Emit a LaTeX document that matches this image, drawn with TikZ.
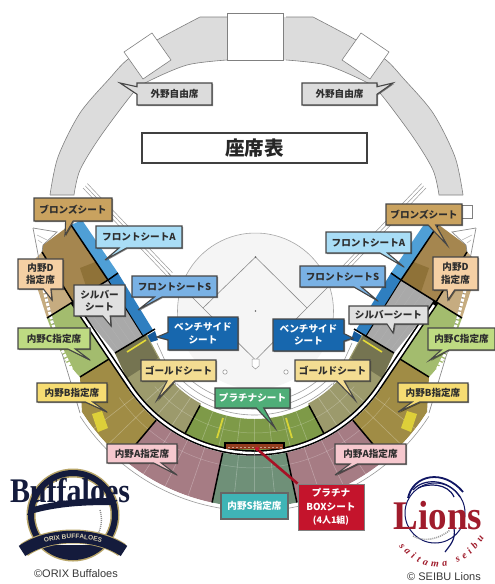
\documentclass[tikz,border=0pt]{standalone}
\usepackage{fontspec}
\usetikzlibrary{shapes.callouts,shadows,decorations.text}
\newfontfamily\cjk{Noto Sans CJK JP}
\setmainfont{Liberation Sans}
\newfontfamily\logoserif{Liberation Serif}
\definecolor{cStand}{HTML}{DCDCDC}
\definecolor{cS}{HTML}{6F9078}
\definecolor{cA}{HTML}{A67C84}
\definecolor{cB}{HTML}{A08C45}
\definecolor{cC}{HTML}{A3BC6E}
\definecolor{cD}{HTML}{C6AC80}
\definecolor{cBronze}{HTML}{A5864F}
\definecolor{cBronzeD}{HTML}{8F7238}
\definecolor{cSilver}{HTML}{A9A9A9}
\definecolor{cGold}{HTML}{9C9A6C}
\definecolor{cPlat}{HTML}{7E9A48}
\definecolor{cFA}{HTML}{4F9FD6}
\definecolor{cFS}{HTML}{2F7FC0}
\definecolor{cBen}{HTML}{155A9C}
\definecolor{navy}{HTML}{141B3C}
\definecolor{logogold}{HTML}{B8A568}
\definecolor{lionred}{HTML}{A01C2C}
\definecolor{lBoxRed}{HTML}{C4142C}
\newcommand{\Sector}[5]{\fill[#5] plot[domain=#3:#4,samples=24] ({254.5+#1*cos(\x)},{303+#1*sin(\x)}) -- plot[domain=#4:#3,samples=24] ({254.5+#2*cos(\x)},{303+#2*sin(\x)}) -- cycle;}
\newcommand{\Rarc}[4]{\draw[#4] plot[domain=#2:#3,samples=30] ({254.5+#1*cos(\x)},{303+#1*sin(\x)});}
\newcommand{\Rad}[4]{\draw[#4] ({254.5+#1*cos(#3)},{303+#1*sin(#3)}) -- ({254.5+#2*cos(#3)},{303+#2*sin(#3)});}
\tikzset{
 lab/.style={rectangle callout,draw=black!72,line width=1.1pt,inner sep=0pt,align=center,
   callout pointer width=7.5pt,text=black!82,font=\cjk\bfseries\fontsize{9.6}{12.5}\selectfont,
   drop shadow={shadow xshift=1pt,shadow yshift=-1pt,fill=black,opacity=.45}},
 seat/.style={white,opacity=.28,line width=.6pt},
 wall/.style={black,line width=1.5pt},
 ringline/.style={black!38,line width=.6pt},
 seatarc/.style={white,opacity=.25,line width=.5pt}
}
\newcommand{\Lab}[9]{%
 \pgfmathsetmacro\lw{#4-#2}\pgfmathsetmacro\lh{#5-#3}%
 \pgfmathsetmacro\lx{(#2+#4)/2}\pgfmathsetmacro\ly{(#3+#5)/2}%
 \node[lab,fill=#8,minimum width=\lw pt,minimum height=\lh pt,callout absolute pointer={(#6,#7)}] (#1) at (\lx,\ly) {#9};}
\newcommand{\HalfBowl}{%
 \fill[cStand] plot[smooth] coordinates {(50,195) (58,157) (80,113) (110,78) (127,60) (157,40) (200,17)} -- (254,17) -- (254,60) -- (227,60) -- plot[smooth] coordinates {(227,60) (187,65) (147,82) (133,93) (100,137) (80,170) (74,195)} -- cycle;
 \draw[black!50,line width=.6pt] plot[smooth] coordinates {(50,195) (58,157) (80,113) (110,78) (127,60) (157,40) (200,17)} -- (227,17);
 \draw[black!50,line width=.6pt] plot[smooth] coordinates {(227,60) (187,65) (147,82) (133,93) (100,137) (80,170) (74,195)} -- (50,195);
 \draw[black!50,fill=white,line width=.6pt] (124,52) -- (152,33) -- (171,60) -- (143,79) -- cycle;
}
\newcommand{\LowerBowl}{%
 \Rarc{112}{90}{134}{ringline}
 \draw[ringline] (176,385) -- (157,343);
 \Rarc{106}{90}{134}{ringline}
 \Rarc{100}{90}{130}{ringline}
 \foreach \o in {0,2.2,4.4}{\draw[black!40,line width=.5pt] ({83+\o},{188-\o}) -- ({168+\o},{277-\o});}
 \Sector{153}{204}{90}{102}{cS}
 \Sector{153}{204}{102}{130}{cA}
 \Sector{153}{204}{130}{147.8}{cB}
 \fill[cB] (110.7,358) -- (80,377) -- (82,412) -- (130,387) -- cycle;
 \fill[cC] (73,302) -- (47,318) -- (55,340) -- (66,362) -- (80,377) -- (110.7,358) -- cycle;
 \fill[cD] (42,252) -- (73,302) -- (47,318) -- (38,290) -- (32,262) -- cycle;
 \fill[cBronze] (43,245) -- (70,225) -- (108,279) -- (73,302) -- (42,252) -- cycle;
 \fill[cBronzeD] (80,268) -- (103,259) -- (108,279) -- (88,292) -- cycle;
 \fill[cFA] (71,225) -- (82,220) -- (118,273) -- (108,280) -- cycle;
 \fill[cFS] (108,280) -- (118,273) -- (153,330) -- (143,336) -- cycle;
 \fill[cBen] (145,337) -- (155,331) -- (158,340) -- (148,343) -- cycle;
 \fill[cSilver] (108,280) -- (143,336) -- (115,353) -- (73,302) -- cycle;
 \foreach \o in {6,12,...,24}{\draw[black!30,line width=.3pt] ({108-\o*1.15},{280+\o*.8}) -- ({143-\o*1.0},{336+\o*.62});}
 \fill[cGold] (115,353) -- (147,335) -- (173,383) -- (130,386) -- cycle;
 \Sector{114}{148}{118}{146}{cGold}
 \fill[black!25!cGold] (115,353) -- (145,334) -- (158,358) -- (127,378) -- cycle;
 \draw[yellow!70!cGold,line width=1.6pt] (127,352) -- (146,340);
 \Sector{116}{148}{90}{118}{cPlat}
 \foreach \a in {96,109,116,123,136,142}{\Rad{153}{204}{\a}{seat}}
 \foreach \a in {97,104,111}{\Rad{116}{148}{\a}{seat}}
 \foreach \a in {124,131,138}{\Rad{114}{148}{\a}{seat}}
 \Rarc{165}{90}{145}{seatarc}
 \Rarc{130}{90}{140}{seatarc}
 \draw[yellow!65!cPlat,line width=1.8pt] (223,418) -- (217,438);
 \fill[yellow!60!cB] (92,414) -- (102,411) -- (108,428) -- (98,432) -- cycle;
 \Rarc{208}{90}{147}{black!40,line width=.6pt}
 \Rarc{205.5}{90}{147}{white,line width=2.2pt}
 \draw[black!45,line width=.7pt] (33,228) -- (57,232) -- (43,245) -- (42,252);
 \draw[black!45,line width=.7pt] (33,228) -- (46,296) -- (58,340) -- (80,413);
 \draw[white,line width=3pt,dash pattern=on 3pt off 1.5pt] (44,290) -- (52,322) -- (62,350) -- (78,382);
 \draw[black!30,line width=.5pt] (37,235) -- (47,240);
 \draw[black!30,line width=.5pt] (38,240) -- (42,243);
 \draw[wall] (71,225) -- (108,280);
 \draw[wall] (108,280) -- (118,273);
 \draw[wall] (47,318) -- (108,280);
 \draw[wall] (115,353) -- (155,329);
 \draw[wall] (110.7,358) -- (80,377);
 \draw[wall] (42,252) -- (73,302);
 \draw[black,line width=1pt] (108,280) -- (143,336);
 \Rad{153}{204}{102}{wall}
 \Rad{153}{204}{130}{wall}
 \Rad{116}{148}{118}{wall}
 \draw[black,line width=5.5pt] (73,302) -- (130.2,386.9);
 \Rarc{150}{90}{146}{black,line width=5.5pt}
 \draw[white,line width=2.4pt] (75,305) -- (130.2,386.9);
 \Rarc{150}{90}{146}{white,line width=2.4pt}
}
\begin{document}
\begin{tikzpicture}[x=1pt,y=-1pt]
\useasboundingbox (0,0) rectangle (495,584);
\fill[white] (0,0) rectangle (495,584);
\fill[black!4] (255.5,311) circle[radius=78];
\draw[black!35,line width=.6pt] plot[domain=172:368,samples=50] ({255.5+78*cos(\x)},{311+78*sin(\x)});
\HalfBowl
\begin{scope}[shift={(513,0)},xscale=-1]\HalfBowl\end{scope}
\draw[black!50,fill=white,line width=.6pt] (227,13) rectangle (283,60);
\begin{scope}\LowerBowl\end{scope}
\begin{scope}[shift={(509,0)},xscale=-1]\LowerBowl\end{scope}
\draw[black!45,line width=.6pt] (255.5,360) -- (203,308) -- (255.5,257) -- (307,308) -- cycle;
\draw[black!45,line width=.6pt] (203,308) -- (168,273);
\draw[black!45,line width=.6pt] (307,308) -- (340,275);
\fill[black!60] (255.5,257) circle[radius=1];
\fill[black!60] (255.5,311) circle[radius=.8];
\draw[black!40,fill=white,line width=.5pt] (252,359) -- (259,359) -- (259,366) -- (255.5,369) -- (252,366) -- cycle;
\draw[black!40,line width=.6pt,fill=white] (225,372) circle[radius=2.2];
\draw[black!40,line width=.6pt,fill=white] (286,372) circle[radius=2.2];
\fill[black] (224,442) -- (285,442) -- (285,449) -- (224,449) -- cycle;
\fill[brown!70!red!70!black] (226,444) -- (283,444) -- (283,449) -- (226,449) -- cycle;
\draw[white,opacity=.5,line width=.5pt,dash pattern=on 2pt off 2pt] (228,447) -- (282,447);
\node[draw=black!75,line width=1.3pt,fill=white,minimum width=225pt,minimum height=30pt,inner sep=0pt,text=black!85,font=\cjk\bfseries\fontsize{19.5}{20}\selectfont] (title) at (254.5,148) {座席表};
\definecolor{lBronze}{HTML}{C9A25F}
\definecolor{lFA}{HTML}{A9DDF6}
\definecolor{lFS}{HTML}{79B1E4}
\definecolor{lBen}{HTML}{1767AE}
\definecolor{lSil}{HTML}{E0E0E0}
\definecolor{lD}{HTML}{F5D0A4}
\definecolor{lC}{HTML}{BEDB82}
\definecolor{lG}{HTML}{F3DC92}
\definecolor{lB}{HTML}{F6DC72}
\definecolor{lA}{HTML}{F6C8CE}
\definecolor{lP}{HTML}{4FAE78}
\definecolor{lS}{HTML}{3FB4B6}
\Lab{gaiL}{137}{83}{212}{105}{120}{83}{cStand}{外野自由席}
\Lab{gaiR}{302}{83}{377}{105}{393}{83}{cStand}{外野自由席}
\draw[black!50,fill=white,line width=.6pt] (455,205) rectangle (472,218);
\Lab{broL}{34}{198}{112}{221}{65}{235}{lBronze}{ブロンズシート}
\Lab{broR}{386}{204}{462}{225}{447}{245}{lBronze}{ブロンズシート}
\Lab{faL}{96}{226}{182}{248}{105}{260}{lFA}{フロントシートA}
\Lab{faR}{326}{232}{411}{253}{404}{267}{lFA}{フロントシートA}
\Lab{fsL}{132}{276}{217}{297}{138}{310}{lFS}{フロントシートS}
\Lab{fsR}{300}{266}{385}{287}{378}{301}{lFS}{フロントシートS}
\Lab{benL}{168}{317}{238}{350}{157}{337}{lBen}{\textcolor{white}{ベンチサイド}\\\textcolor{white}{シート}}
\Lab{benR}{273}{319}{344}{351}{353}{338}{lBen}{\textcolor{white}{ベンチサイド}\\\textcolor{white}{シート}}
\Lab{silL}{74}{285}{125}{316}{111}{326}{lSil}{シルバー\\シート}
\Lab{silR}{349}{306}{428}{324}{393}{333}{lSil}{シルバーシート}
\Lab{dL}{18}{259}{63}{289}{52}{300}{lD}{内野D\\指定席}
\Lab{dR}{433}{257}{478}{290}{448}{300}{lD}{内野D\\指定席}
\Lab{cL}{18}{328}{90}{349}{90}{360}{lC}{内野C指定席}
\Lab{cR}{428}{328}{495}{350}{430}{360}{lC}{内野C指定席}
\Lab{gL}{141}{360}{216}{381}{157}{400}{lG}{ゴールドシート}
\Lab{gR}{295}{360}{370}{381}{355}{400}{lG}{ゴールドシート}
\Lab{bL}{37}{383}{107}{402}{107}{412}{lB}{内野B指定席}
\Lab{bR}{398}{383}{468}{402}{398}{412}{lB}{内野B指定席}
\Lab{pt}{215}{388}{290}{408}{275}{428}{lP}{\textcolor{white}{プラチナシート}}
\Lab{aL}{107}{444}{177}{463}{177}{475}{lA}{内野A指定席}
\Lab{aR}{335}{444}{406}{464}{335}{475}{lA}{内野A指定席}
\node[draw=black!60,line width=1.1pt,fill=lS,minimum width=67pt,minimum height=26pt,inner sep=0pt,text=white,font=\cjk\bfseries\fontsize{9.6}{12}\selectfont,drop shadow={shadow xshift=1pt,shadow yshift=-1pt,fill=black,opacity=.45}] (sL) at (254.5,506) {内野S指定席};
\node[draw=black!50,line width=.8pt,fill=lBoxRed,minimum width=66pt,minimum height=46pt,inner sep=0pt,align=center,text=white,font=\cjk\bfseries\fontsize{9.6}{13.5}\selectfont,drop shadow={shadow xshift=1pt,shadow yshift=-1pt,fill=black,opacity=.45}] (box) at (331,507) {プラチナ\\BOXシート\\{\fontsize{9}{13}\selectfont (4人1組)}};
\node[circle,fill=lBoxRed,inner sep=0pt,minimum size=4pt] (dot) at (257,449) {};
\draw[lBoxRed!85!black,line width=2.6pt] (dot) -- (box.north west);
% Buffaloes logo
\draw[logogold,line width=9pt] (73,515) circle[radius=42];
\draw[navy,line width=6pt] (73,515) circle[radius=42];
\fill[white] (73,515) circle[radius=37];
\fill[navy] (27,515) .. controls (60,505) and (90,505) .. (117,505) -- (113,498) .. controls (85,498) and (55,500) .. (30,508) -- cycle;
\fill[navy] (48,545) .. controls (60,558) and (88,558) .. (98,545) -- cycle;
\draw[black!45,line width=1.4pt,dash pattern=on 1pt off 1pt] (100,510) .. controls (103,520) and (101,530) .. (96,538);
\draw[logogold,line width=14pt] (24,550) .. controls (50,532) and (96,532) .. (122,550);
\draw[navy,line width=12pt] (22,551) .. controls (50,532) and (96,532) .. (124,551);
\path[decorate,decoration={text along path,text color=logogold!50!white,text align=center,text={|\fontsize{6.5}{7}\bfseries\selectfont|ORIX BUFFALOES}}] (24,553) .. controls (50,534) and (96,534) .. (122,553);
\node[text=navy,inner sep=0pt,yscale=1.15,font=\logoserif\bfseries\fontsize{30}{30}\selectfont] (buff) at (70,491) {Buffaloes};
\node[text=black!78,inner sep=0pt,font=\fontsize{11}{12}\selectfont] (orixc) at (76,574) {©ORIX Buffaloes};
% Lions logo
\draw[navy!80!blue,line width=1pt,fill=white] (435,513) circle[radius=30];
\draw[navy!80!blue,line width=1.8pt] (408,498) .. controls (413,475) and (443,468) .. (463,492);
\draw[navy!80!blue,line width=1.2pt] (413,490) .. controls (423,478) and (448,478) .. (460,497);
\draw[navy!80!blue,line width=1.2pt] (418,488) .. controls (428,483) and (448,483) .. (454,497);
\draw[navy!80!blue,line width=1.2pt] (445,552) .. controls (450,545) and (456,540) .. (454,528);
\draw[black!40,line width=1.5pt,dash pattern=on 1pt off 1pt] (413,536) .. controls (423,542) and (438,540) .. (450,530);
\node[text=lionred,inner sep=0pt,yscale=1.1,font=\logoserif\bfseries\fontsize{37}{37}\selectfont] (lions) at (438,516) {Lions};
\path[decorate,decoration={text along path,text color=lionred,text align={fit to path},text={|\logoserif\bfseries\itshape\fontsize{10}{12}\selectfont|saitama seibu}}] (399,546) .. controls (420,575) and (462,575) .. (484,538);
\node[text=black!78,inner sep=0pt,font=\fontsize{11}{12}\selectfont] (seibuc) at (444,577) {© SEIBU Lions};
\end{tikzpicture}
\end{document}
